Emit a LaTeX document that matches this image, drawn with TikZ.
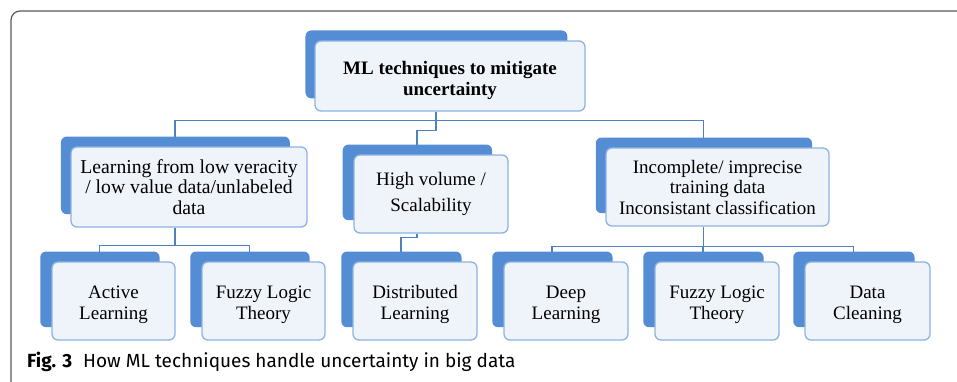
\documentclass[tikz,border=0pt]{standalone}
\usepackage{fontspec}
\setmainfont{Liberation Serif}
\newfontfamily\capfont{Fira Sans}
\usetikzlibrary{shadows}

\definecolor{backblue}{RGB}{84,141,212}
\definecolor{edgeblue}{RGB}{141,179,226}
\definecolor{faceblue}{RGB}{239,243,250}
\definecolor{lineblue}{RGB}{79,129,189}

\pgfdeclarelayer{bg}
\pgfsetlayers{bg,main}

\tikzset{
  box/.style={draw=edgeblue, line width=1.3pt, rounded corners=6pt, fill=faceblue,
    align=center, inner sep=2pt, font=\fontsize{19}{20.5}\selectfont,
    copy shadow={shadow xshift=-14pt, shadow yshift=12pt, shadow scale=0.97, fill=backblue, draw=none}},
  link/.style={draw=lineblue, line width=1.2pt},
}

\begin{document}
\begin{tikzpicture}[x=1pt, y=-1pt]
        \useasboundingbox (0,0) rectangle (957,381);

        % Frame
        \draw[black!65, line width=1.2pt, rounded corners=9pt] (11,395) -- (11,11) -- (965,11);

        % Nodes
        \node[box, minimum width=270pt, minimum height=70pt, font=\bfseries\fontsize{19}{20.5}\selectfont] (top) at (450,76) {\rule{0pt}{22pt}ML techniques to mitigate\\uncertainty};

        \node[box, minimum width=236pt, minimum height=80pt, font=\fontsize{19.7}{20.5}\selectfont] (lowval) at (189,187) {Learning from low veracity\\/ low value data/unlabeled\\data};
        \node[box, minimum width=154pt, minimum height=78pt] (volume) at (431,194) {High volume /\\[6pt]Scalability};
        \node[box, minimum width=223pt, minimum height=78pt] (imprecise) at (717.5,187) {Incomplete/ imprecise\\training data\\Inconsistant classification};

        \node[box, minimum width=123pt, minimum height=78pt] (active) at (113.5,301) {\rule{0pt}{20pt}Active\\Learning};
        \node[box, minimum width=123pt, minimum height=78pt] (fuzzya) at (263.5,301) {\rule{0pt}{20pt}Fuzzy Logic\\Theory};
        \node[box, minimum width=124pt, minimum height=78pt] (distrib) at (415,301) {\rule{0pt}{20pt}Distributed\\Learning};
        \node[box, minimum width=124pt, minimum height=78pt] (deep) at (566,301) {\rule{0pt}{20pt}Deep\\Learning};
        \node[box, minimum width=124pt, minimum height=78pt] (fuzzyb) at (717,301) {\rule{0pt}{20pt}Fuzzy Logic\\Theory};
        \node[box, minimum width=125pt, minimum height=78pt] (clean) at (867.5,301) {\rule{0pt}{20pt}Data\\Cleaning};

        % Caption
        \node[anchor=base west, inner sep=0pt, font=\capfont\fontsize{19}{22}\selectfont] (caption) at (27,367) {\textbf{Fig. 3}\hspace{11pt}How ML techniques handle uncertainty in big data};

        % Edges
        \begin{pgfonlayer}{bg}
        \draw[link] ([xshift=-14pt]top.south) -- ++(0,-9pt) coordinate (j0);
        \draw[link] (j0) -| ([xshift=-14pt]lowval.north);
        \draw[link] (j0) -| ([xshift=-14pt]imprecise.north);
        \draw[link] (j0) -- ++(0,-10pt) -| ([xshift=-14pt]volume.north);

        \draw[link] ([xshift=-14pt]lowval.south) -- ++(0,-18pt) coordinate (j1);
        \foreach \c in {active, fuzzya}
                \draw[link] (j1) -| ([xshift=-14pt]\c.north);

        \draw[link] ([xshift=-14pt]volume.south) -- ++(0,-4pt) -| ([xshift=-14pt]distrib.north);

        \draw[link] ([xshift=-14pt]imprecise.south) -- ++(0,-20pt) coordinate (j2);
        \foreach \c in {deep, fuzzyb, clean}
                \draw[link] (j2) -| ([xshift=-14pt]\c.north);
        \end{pgfonlayer}
\end{tikzpicture}
\end{document}
